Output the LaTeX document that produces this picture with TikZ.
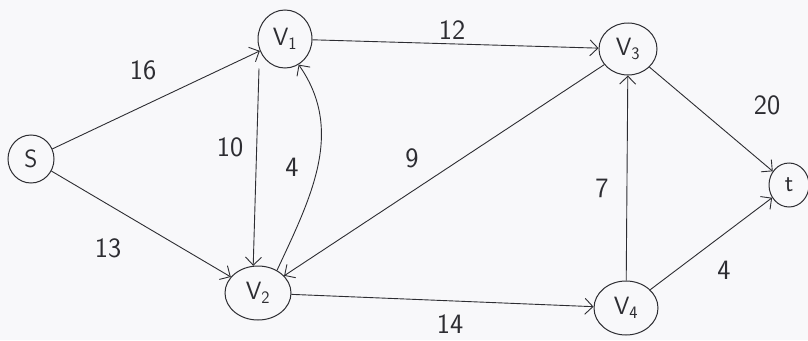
\documentclass[tikz,border=0pt]{standalone}
\usetikzlibrary{arrows.meta,shapes.geometric}
\definecolor{bg}{RGB}{248,248,250}
\definecolor{ink}{RGB}{45,45,50}
\begin{document}
\begin{tikzpicture}[x=1pt,y=-1pt,
  vtx/.style={draw=ink,line width=1pt,ellipse,inner sep=0pt,font=\sffamily\fontsize{25}{30}\selectfont,text=ink},
  edge/.style={draw=ink,line width=0.9pt,-{Straight Barb[length=8pt,width=16pt,line width=0.9pt]}},
  lbl/.style={font=\sffamily\fontsize{28}{32}\selectfont,text=ink,inner sep=0pt}]
\fill[bg] (0,0) rectangle (808,340);
\useasboundingbox (0,0) rectangle (808,340);
\node[vtx,minimum width=46pt,minimum height=48pt] (s) at (31,159) {S};
\node[vtx,minimum width=54pt,minimum height=58pt] (v1) at (285,39) {V\textsubscript{1}};
\node[vtx,minimum width=66pt,minimum height=54pt] (v2) at (258,293) {V\textsubscript{2}};
\node[vtx,minimum width=58pt,minimum height=52pt] (v3) at (628,49) {V\textsubscript{3}};
\node[vtx,minimum width=64pt,minimum height=54pt] (v4) at (626,308) {V\textsubscript{4}};
\node[vtx,minimum width=40pt,minimum height=44pt] (t) at (789,185) {t};
\draw[edge] (s) -- (v1);
\draw[edge] (s) -- (v2);
\draw[edge] (v1) -- (v3);
\draw[edge] ([xshift=-26pt]v1.south) -- (v2.100);
\draw[edge] (v2.50) to[out=65,in=-55] (v1.-62);
\draw[edge] (v3) -- (v2);
\draw[edge] (v3) -- (t);
\draw[edge] (v4) -- (v3);
\draw[edge] (v4) -- (t);
\draw[edge] (v2) -- (v4);
\node[lbl] (l16) at (143,70) {16};
\node[lbl] (l13) at (108,248) {13};
\node[lbl] (l12) at (452,30) {12};
\node[lbl] (l10) at (230,147) {10};
\node[lbl] (l4a) at (292,167) {4};
\node[lbl] (l9) at (412,158) {9};
\node[lbl] (l20) at (767,105) {20};
\node[lbl] (l7) at (602,188) {7};
\node[lbl] (l4b) at (724,270) {4};
\node[lbl] (l14) at (450,324) {14};
\end{tikzpicture}
\end{document}
